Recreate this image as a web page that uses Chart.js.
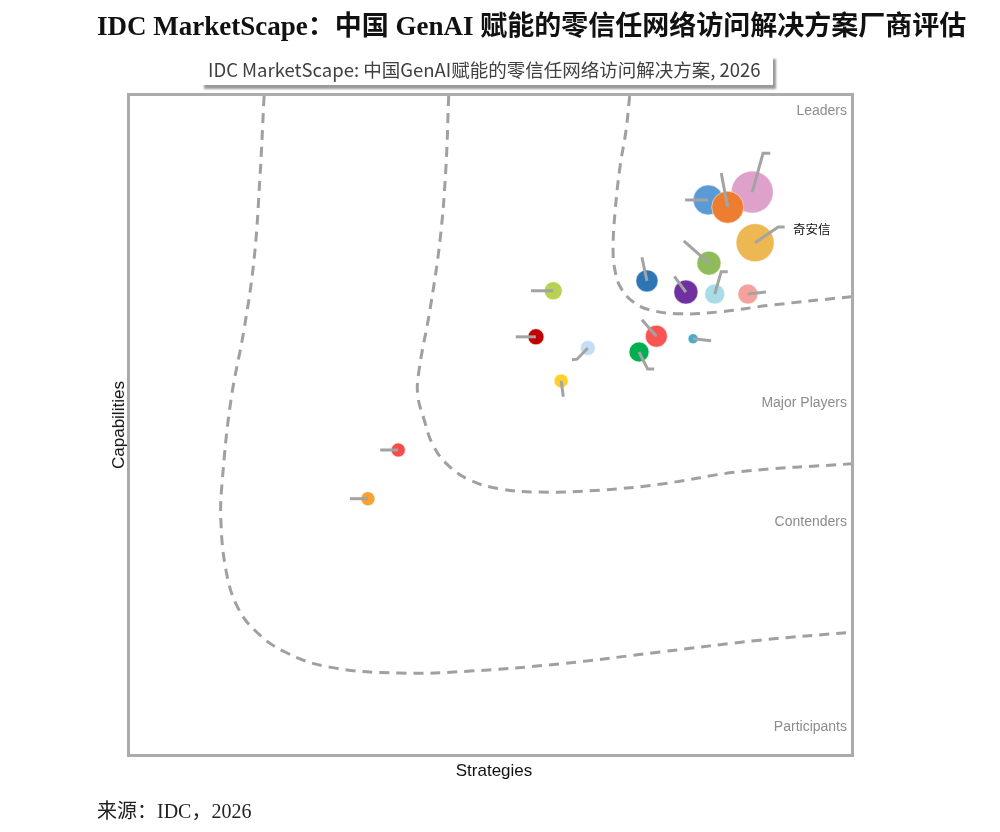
<!DOCTYPE html>
<html>
<head>
<meta charset="utf-8">
<script src="https://cdn.jsdelivr.net/npm/chart.js@4.4.1/dist/chart.umd.min.js"></script>
<style>
  html, body { margin:0; padding:0; background:#fff; width:1000px; height:832px; overflow:hidden; }
  #wrap { position:relative; width:1000px; height:832px; }
  canvas { position:absolute; left:0; top:0; }
  .t { position:absolute; white-space:nowrap; }
  #title { left:97px; top:4px; font-family:"Liberation Serif","Noto Sans CJK SC",serif; font-weight:bold; font-size:27px; color:#111; }
  #subbox { position:absolute; left:201px; top:55px; width:572px; height:30px; background:#fff; box-shadow:3px 4px 2px #9a9a9a; }
  #sub { left:208px; top:56px; font-family:"Liberation Sans Narrow","Noto Sans CJK SC",sans-serif; font-size:18.5px; color:#404040; }
  #src { left:97px; top:795px; font-family:"Liberation Serif","Noto Sans CJK SC",serif; font-size:20px; color:#222; }
  .q { font-family:"Liberation Sans",Arial,sans-serif; font-size:14px; color:#8c8c8c; }
  .ax { font-family:"Liberation Sans",Arial,sans-serif; font-size:17px; color:#111; }
  #ylab { left:119px; top:425px; transform:translate(-50%,-50%) rotate(-90deg); }
  #xlab { left:494px; top:771px; transform:translate(-50%,-50%); }
  #qax { left:793px; top:219px; font-family:"Noto Sans CJK SC",serif; font-size:12.5px; color:#111; }
</style>
</head>
<body>
<div id="wrap">
  <canvas id="c" width="1000" height="832"></canvas>
  <div class="t" id="title">IDC MarketScape：中国 GenAI 赋能的零信任网络访问解决方案厂商评估</div>
  <div id="subbox"></div>
  <div class="t" id="sub">IDC MarketScape: 中国GenAI赋能的零信任网络访问解决方案, 2026</div>
  <div class="t q" style="right:153px; top:102px;">Leaders</div>
  <div class="t q" style="right:153px; top:394px;">Major Players</div>
  <div class="t q" style="right:153px; top:513px;">Contenders</div>
  <div class="t q" style="right:153px; top:718px;">Participants</div>
  <div class="t ax" id="ylab">Capabilities</div>
  <div class="t ax" id="xlab">Strategies</div>
  <div class="t" id="qax">奇安信</div>
  <div class="t" id="src">来源：IDC，2026</div>
</div>
<script>
// Vendor bubbles (strategies score, capabilities score, bubble size)
const strategies   = [86.3, 80.2, 82.9, 86.7, 80.3, 71.7, 77.1, 81.1, 85.7, 58.7, 56.3, 63.5, 73.0, 70.6, 78.1, 59.8, 37.2, 33.0];
const capabilities = [85.4, 84.2, 83.1, 77.7, 74.6, 71.9, 70.2, 69.9, 69.9, 70.4, 63.4, 61.7, 63.5, 61.1, 63.1, 56.7, 46.2, 38.8];
const sizes        = [21, 15, 16, 19, 12, 11, 12, 10, 10, 9, 8, 7.5, 11, 10, 5, 7, 7, 7];
const colors = ['#DDA1CA','#5B9BD5','#ED7D31','#EDB752','#8FBC5A','#2E75B6','#7030A0','#A8DDE8','#F4A29B',
                '#B7D150','#C00000','#C5DEF5','#FA5555','#00B050','#4BACC6','#FFD02A','#F54C4C','#F7A334'];
// Leader-line elbow/end points per vendor (strategies, capabilities)
const leaderX = [[87.8,88.8],[77.0],[82.0],[89.9,90.8],[76.8],[71.0],[75.5],[82.0,82.9],[88.2],[55.6],[53.5],[62.0,61.3],[71.0],[71.8,72.7],[80.6],[60.1],[34.7],[30.5]];
const leaderY = [[91.3,91.3],[84.2],[88.3],[80.1,80.1],[78.0],[75.5],[72.6],[73.3,73.3],[70.2],[70.4],[63.4],[60.0,59.9],[66.0],[58.5,58.5],[62.8],[54.3],[46.2],[38.8]];
// Segment boundary curves (strategies, capabilities)
const curve1X = [18.6,18.0,17.2,15.8,14.0,12.8,12.6,13.3,14.8,17.3,21.5,27.7,37.4,47.2,59.6,73.5,87.4,100];
const curve1Y = [100,87.2,75.1,64.4,53.8,41.6,35.6,28.0,22.6,18.8,15.5,13.2,12.3,12.6,13.7,15.5,17.3,18.5];
const curve2X = [44.2,43.8,43.0,41.6,40.1,39.9,40.8,42.0,44.1,47.2,51.3,56.9,65.2,73.5,84.6,100];
const curve2Y = [100,88.8,78.1,67.5,58.4,54.6,50.8,47.0,43.9,41.6,40.3,39.8,40.1,41.0,42.9,44.1];
const curve3X = [69.3,68.8,68.0,67.3,67.0,67.3,68.1,69.8,72.1,76.3,81.8,88.8,100];
const curve3Y = [100,94.8,89.5,82.7,76.6,73.3,70.8,68.7,67.5,66.9,67.2,68.2,69.5];

const zip = (xs, ys) => xs.map((x, i) => ({x, y: ys[i]}));
const datasets = [];

// leader lines (on top)
strategies.forEach((sx, i) => {
  const pts = [{x: sx, y: capabilities[i]}].concat(zip(leaderX[i], leaderY[i]));
  datasets.push({type:'scatter', data: pts, showLine:true, borderColor:'#A3A3A3', borderWidth:3,
    pointRadius:0, tension:0, order:0, borderCapStyle:'butt'});
});
// bubbles
datasets.push({type:'bubble', order:1,
  data: strategies.map((x, i) => ({x, y: capabilities[i], r: sizes[i]})),
  backgroundColor: colors, borderColor:'rgba(255,255,255,0.5)', borderWidth:1});
// curves
[[curve1X, curve1Y],[curve2X, curve2Y],[curve3X, curve3Y]].forEach(([xs, ys]) => {
  datasets.push({type:'scatter', data: zip(xs, ys), showLine:true, borderColor:'#A0A0A0', borderWidth:3,
    borderDash:[10,7], pointRadius:0, tension:0.4, order:2});
});

const frame = {
  id:'frame',
  afterDraw(chart) {
    const a = chart.chartArea, ctx = chart.ctx;
    ctx.save();
    ctx.strokeStyle = '#ABABAB';
    ctx.lineWidth = 3;
    ctx.strokeRect(a.left - 1.5, a.top - 1.5, a.right - a.left + 3, a.bottom - a.top + 3);
    ctx.restore();
  }
};

new Chart(document.getElementById('c'), {
  type:'scatter',
  data:{ datasets },
  options:{
    responsive:false,
    animation:false,
    layout:{ padding:{ left:130, right:149, top:96, bottom:78 } },
    plugins:{ legend:{display:false}, tooltip:{enabled:false} },
    scales:{
      x:{ type:'linear', min:0, max:100, display:false },
      y:{ type:'linear', min:0, max:100, display:false }
    }
  },
  plugins:[frame]
});
</script>
</body>
</html>
